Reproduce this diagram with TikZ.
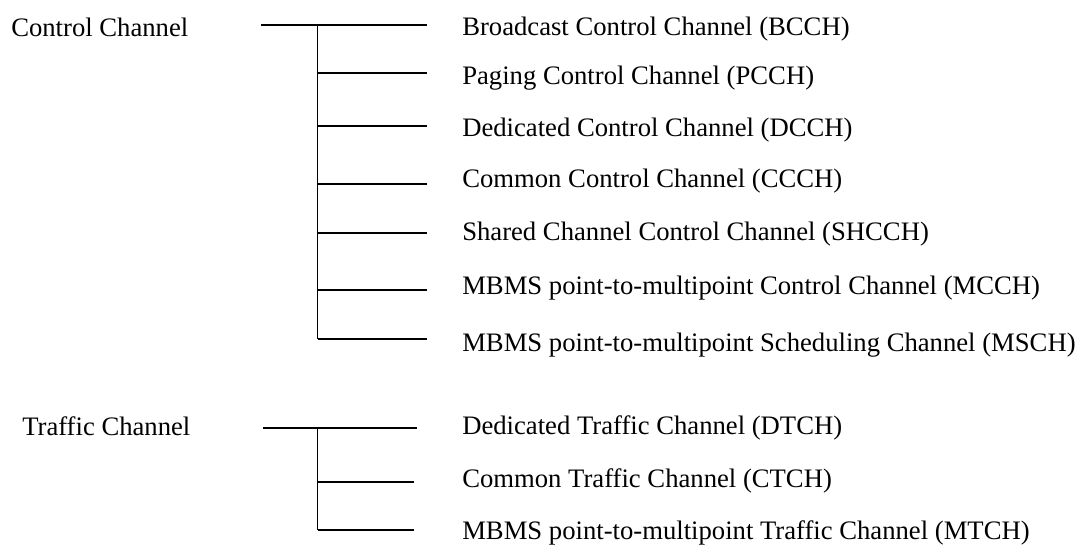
\documentclass[tikz,border=0pt]{standalone}
\usepackage{fontspec}
\setmainfont{Liberation Serif}
\begin{document}
\begin{tikzpicture}[x=0.75pt,y=-0.75pt,
  lbl/.style={anchor=base west, inner sep=0pt, font=\fontsize{20}{24}\selectfont},
  tree/.style={line width=1.1pt, black}]
\useasboundingbox (0,0) rectangle (1076,545);
% group labels
\node[lbl] (ctrl) at (11,37) {Control Channel};
\node[lbl] (traf) at (22,436) {Traffic Channel};
% control channel items
\node[lbl] (bcch) at (462,36) {Broadcast Control Channel (BCCH)};
\node[lbl] (pcch) at (462,85) {Paging Control Channel (PCCH)};
\node[lbl] (dcch) at (462,137) {Dedicated Control Channel (DCCH)};
\node[lbl] (ccch) at (462,188) {Common Control Channel (CCCH)};
\node[lbl] (shcch) at (462,241) {Shared Channel Control Channel (SHCCH)};
\node[lbl] (mcch) at (462,295) {MBMS point-to-multipoint Control Channel (MCCH)};
\node[lbl] (msch) at (462,352) {MBMS point-to-multipoint Scheduling Channel (MSCH)};
% traffic channel items
\node[lbl] (dtch) at (462,435) {Dedicated Traffic Channel (DTCH)};
\node[lbl] (ctch) at (462,488) {Common Traffic Channel (CTCH)};
\node[lbl] (mtch) at (462,540) {MBMS point-to-multipoint Traffic Channel (MTCH)};
% control tree
\coordinate (cs) at (261,25);
\coordinate (cj) at (317.5,25);
\coordinate (cb) at (317.5,339);
\foreach \n/\y in {1/25,2/73,3/126,4/184,5/233,6/290,7/339} {
  \coordinate (cl\n) at (317.5,\y);
  \coordinate (ce\n) at (427,\y);
}
\draw[tree] (cs) -- (ce1);
\draw[tree] (cj) -- (cb);
\foreach \n in {2,...,7} { \draw[tree] (cl\n) -- (ce\n); }
% traffic tree
\coordinate (ts) at (263,428);
\coordinate (tj) at (317.5,428);
\coordinate (tb) at (317.5,530);
\coordinate (te1) at (417,428);
\coordinate (tl2) at (317.5,482);
\coordinate (te2) at (414,482);
\coordinate (tl3) at (317.5,530);
\coordinate (te3) at (414,530);
\draw[tree] (ts) -- (te1);
\draw[tree] (tj) -- (tb);
\draw[tree] (tl2) -- (te2);
\draw[tree] (tl3) -- (te3);
\end{tikzpicture}
\end{document}
